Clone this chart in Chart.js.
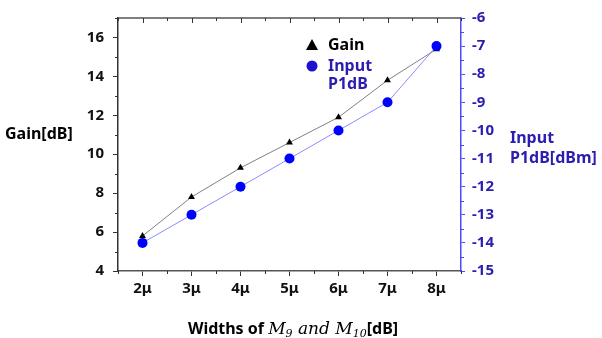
<!DOCTYPE html>
<html>
<head>
<meta charset="utf-8">
<script src="https://cdn.jsdelivr.net/npm/chart.js@4"></script>
<style>
  html, body { margin: 0; padding: 0; background: #fff; }
  #wrap { width: 602px; height: 338px; }
</style>
</head>
<body>
<div id="wrap"><canvas id="gainChart" width="602" height="338"></canvas></div>
<script>
// widths of M9 / M10 (um) and measured values
const widths = [2, 3, 4, 5, 6, 7, 8];
const gainDb = [5.8, 7.8, 9.3, 10.6, 11.9, 13.8, 15.4];
const p1dbDbm = [-14, -13, -12, -11, -10, -9, -7];

// tick labels
const gainTicks = [4, 6, 8, 10, 12, 14, 16];
const p1dbTicks = [-15, -14, -13, -12, -11, -10, -9, -8, -7, -6];

const BLUE_TXT = '#2a1db0';
const FONT = '"Noto Sans", "Open Sans", sans-serif';

// 보조 눈금, 위쪽 프레임, 범례, 축 제목
const decorations = {
    id: 'decorations',
    afterDraw(chart) {
        const { ctx, chartArea: a, scales } = chart;
        const x = scales.x, yl = scales.y, yr = scales.y1;
        ctx.save();

        // top frame with inward ticks
        ctx.strokeStyle = '#555';
        ctx.lineWidth = 1.5;
        ctx.beginPath();
        ctx.moveTo(a.left, a.top); ctx.lineTo(a.right, a.top);
        ctx.stroke();
        ctx.lineWidth = 1;
        ctx.strokeStyle = '#333';
        for (let v = 1.5; v <= 8.5; v += 0.5) {
            const px = Math.round(x.getPixelForValue(v)) + 0.5;
            const len = Number.isInteger(v) ? 5 : 3;
            ctx.beginPath();
            ctx.moveTo(px, a.top); ctx.lineTo(px, a.top + len);
            ctx.stroke();
            if (!Number.isInteger(v)) {
                ctx.beginPath();
                ctx.moveTo(px, a.bottom); ctx.lineTo(px, a.bottom + 3);
                ctx.stroke();
            }
        }
        // left minor ticks
        for (let v = 5; v <= 17; v += 2) {
            const py = Math.round(yl.getPixelForValue(v)) + 0.5;
            ctx.beginPath();
            ctx.moveTo(a.left, py); ctx.lineTo(a.left - 3, py);
            ctx.stroke();
        }
        // right minor ticks
        ctx.strokeStyle = '#4b4bff';
        for (let v = -14.5; v < -6; v += 1) {
            const py = Math.round(yr.getPixelForValue(v)) + 0.5;
            ctx.beginPath();
            ctx.moveTo(a.right, py); ctx.lineTo(a.right + 3, py);
            ctx.stroke();
        }

        // legend
        ctx.fillStyle = '#000';
        ctx.beginPath();
        ctx.moveTo(312, 39); ctx.lineTo(318, 50); ctx.lineTo(306, 50);
        ctx.closePath(); ctx.fill();
        ctx.fillStyle = '#1f10d0';
        ctx.beginPath();
        ctx.arc(312, 66, 5.5, 0, Math.PI * 2); ctx.fill();
        ctx.font = 'bold 16px ' + FONT;
        ctx.textBaseline = 'middle';
        ctx.textAlign = 'left';
        ctx.fillStyle = '#000';
        ctx.fillText('Gain', 328, 45);
        ctx.fillStyle = BLUE_TXT;
        ctx.fillText('Input', 328, 66);
        ctx.fillText('P1dB', 328, 84);

        // axis titles
        ctx.font = 'bold 16px ' + FONT;
        ctx.fillStyle = '#000';
        ctx.fillText('Gain[dB]', 5, 134);
        ctx.fillStyle = BLUE_TXT;
        ctx.fillText('Input', 510, 138);
        ctx.fillText('P1dB[dBm]', 510, 158);

        // x title: Widths of M9 and M10[dB]
        const parts = [
            { t: 'Widths of ', f: 'bold 16px ' + FONT, dy: 0 },
            { t: 'M', f: 'italic 17px "DejaVu Serif", serif', dy: 0 },
            { t: '9', f: 'italic 11px "DejaVu Serif", serif', dy: 3 },
            { t: ' and ', f: 'italic 17px "DejaVu Serif", serif', dy: 0 },
            { t: 'M', f: 'italic 17px "DejaVu Serif", serif', dy: 0 },
            { t: '10', f: 'italic 11px "DejaVu Serif", serif', dy: 3 },
            { t: '[dB]', f: 'bold 16px ' + FONT, dy: 0 }
        ];
        let total = 0;
        parts.forEach(p => { ctx.font = p.f; p.w = ctx.measureText(p.t).width; total += p.w; });
        let cx = 293 - total / 2;
        ctx.fillStyle = '#000';
        ctx.textBaseline = 'alphabetic';
        parts.forEach(p => {
            ctx.font = p.f;
            ctx.fillText(p.t, cx, 334 + p.dy);
            cx += p.w;
        });
        ctx.restore();
    }
};

new Chart(document.getElementById('gainChart'), {
    type: 'line',
    data: {
        datasets: [
            {
                label: 'Gain',
                data: widths.map((w, i) => ({ x: w, y: gainDb[i] })),
                yAxisID: 'y',
                borderColor: '#808080',
                borderWidth: 1,
                pointStyle: 'triangle',
                pointRadius: 4,
                pointBackgroundColor: '#000',
                pointBorderColor: '#000',
                pointBorderWidth: 0,
                order: 2
            },
            {
                label: 'Input P1dB',
                data: widths.map((w, i) => ({ x: w, y: p1dbDbm[i] })),
                yAxisID: 'y1',
                borderColor: '#8c8cff',
                borderWidth: 1,
                pointStyle: 'circle',
                pointRadius: 5,
                pointBackgroundColor: '#0000ff',
                pointBorderColor: '#0000ff',
                pointBorderWidth: 0,
                order: 1
            }
        ]
    },
    options: {
        responsive: false,
        animation: false,
        devicePixelRatio: 1,
        layout: { padding: { top: 15, left: 0, right: 0, bottom: 0 } },
        plugins: {
            legend: { display: false },
            tooltip: { enabled: false }
        },
        scales: {
            x: {
                type: 'linear',
                position: 'bottom',
                min: 1.5,
                max: 8.5,
                afterBuildTicks: s => { s.ticks = widths.map(v => ({ value: v })); },
                afterFit: s => { s.height = 67; },
                ticks: {
                    callback: v => v + 'μ',
                    color: '#111',
                    font: { family: FONT, size: 15, weight: 'bold' },
                    padding: 4,
                    maxRotation: 0
                },
                grid: { drawOnChartArea: false, tickLength: 5, color: '#333' },
                border: { color: '#555', width: 1.5 }
            },
            y: {
                position: 'left',
                min: 4,
                max: 17,
                afterBuildTicks: s => { s.ticks = gainTicks.map(v => ({ value: v })); },
                afterFit: s => { s.width = 118; },
                ticks: {
                    color: '#111',
                    font: { family: FONT, size: 15, weight: 'bold' },
                    padding: 9
                },
                grid: { drawOnChartArea: false, tickLength: 5, color: '#333' },
                border: { color: '#333', width: 1.5 }
            },
            y1: {
                position: 'right',
                min: -15,
                max: -6,
                afterBuildTicks: s => { s.ticks = p1dbTicks.map(v => ({ value: v })); },
                afterFit: s => { s.width = 141; },
                ticks: {
                    color: BLUE_TXT,
                    font: { family: FONT, size: 15, weight: 'bold' },
                    padding: 7
                },
                grid: { drawOnChartArea: false, tickLength: 4, color: '#4b4bff' },
                border: { color: '#4b4bff', width: 1.5 }
            }
        }
    },
    plugins: [decorations]
});
</script>
</body>
</html>
